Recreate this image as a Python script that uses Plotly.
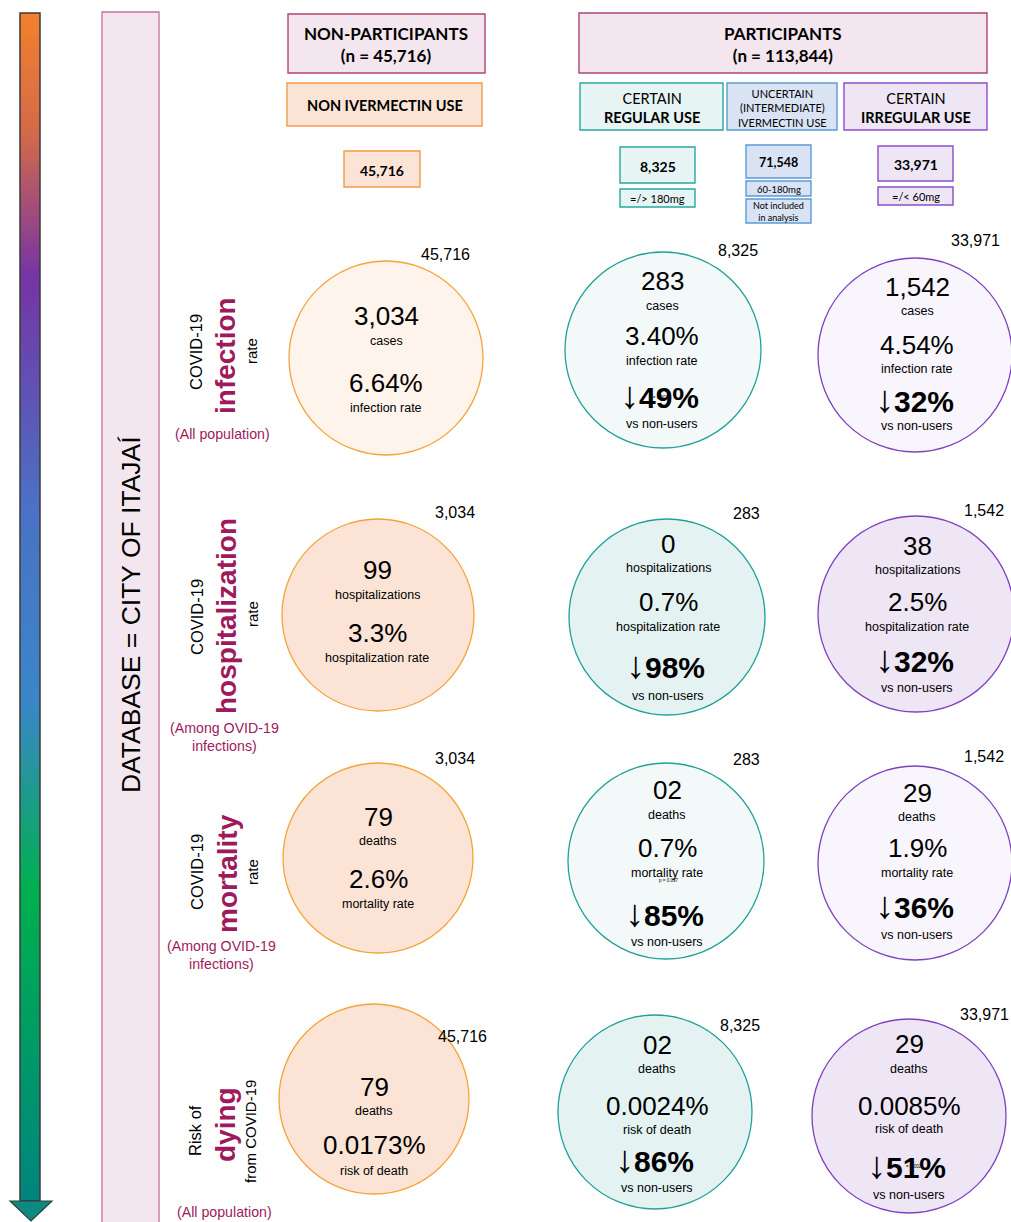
import plotly.graph_objects as go
import numpy as np

# ---------------- DATA ----------------
header_groups = ["NON-PARTICIPANTS", "PARTICIPANTS"]
header_n = ["45,716", "113,844"]
subgroup_labels = ["NON IVERMECTIN USE", "CERTAIN|REGULAR USE",
                   "UNCERTAIN|(INTERMEDIATE)|IVERMECTIN USE", "CERTAIN|IRREGULAR USE"]
subgroup_n = ["45,716", "8,325", "71,548", "33,971"]
dose_labels = ["", "=/> 180mg", "60-180mg", "=/< 60mg"]
excluded_note = "Not included<br>in analysis"

outcome_words = ["infection", "hospitalization", "mortality", "dying"]
count_words = ["cases", "hospitalizations", "deaths", "deaths"]
rate_words = ["infection rate", "hospitalization rate", "mortality rate", "risk of death"]

denom_non = ["45,716", "3,034", "3,034", "45,716"]
denom_reg = ["8,325", "283", "283", "8,325"]
denom_irr = ["33,971", "1,542", "1,542", "33,971"]

count_non = ["3,034", "99", "79", "79"]
count_reg = ["283", "0", "02", "02"]
count_irr = ["1,542", "38", "29", "29"]

rate_non = ["6.64%", "3.3%", "2.6%", "0.0173%"]
rate_reg = ["3.40%", "0.7%", "0.7%", "0.0024%"]
rate_irr = ["4.54%", "2.5%", "1.9%", "0.0085%"]

reduction_reg = [49, 98, 85, 86]
reduction_irr = [32, 32, 36, 51]

p_values = ["p = 0.007", "p = 0.097", "= 0.002"]

# ---------------- LAYOUT (positions / styles) ----------------
W, H = 1011, 1222
FONT = "Liberation Sans, Arial, sans-serif"
HFONT = "Lato, Open Sans, sans-serif"
MAROON = "#9E1A5C"

ORANGE_E, TEAL_E, PURP_E = "#F5A33B", "#22A09A", "#8040C0"
fills_non = ["#FEF4EB", "#FBE4D5", "#FBE4D5", "#FBE4D5"]
fills_reg = ["#F3F9F9", "#E4F3F2", "#F3F9F9", "#E4F3F2"]
fills_irr = ["#F8F5FC", "#EEE5F5", "#F8F5FC", "#EEE5F5"]

# circle: cx, cy, r, label_x, label_y, text_x, [y positions of text lines]
geo_non = [
    (386, 358, 97, 445, 254, 386, [316, 341, 383, 408]),
    (378, 615, 96, 455, 512, 377, [570, 595, 633, 658]),
    (378, 858, 95, 455, 758, 378, [817, 841, 879, 904]),
    (374, 1099, 95, 462, 1036, 374, [1087, 1111, 1145, 1171]),
]
geo_reg = [
    (663, 350, 98, 738, 250, 662, [281, 306, 336, 361, 398, 424]),
    (667, 617, 98, 746, 513, 668, [544, 568, 602, 627, 668, 696]),
    (666, 861, 98, 746, 759, 667, [790, 815, 848, 873, 916, 942]),
    (655, 1112, 97, 740, 1025, 657, [1045, 1069, 1106, 1130, 1162, 1188]),
]
geo_irr = [
    (915, 355, 97, 975, 240, 917, [287, 311, 345, 369, 402, 426]),
    (916, 614, 98, 984, 510, 917, [546, 570, 602, 627, 662, 688]),
    (915, 863, 97, 984, 756, 917, [793, 817, 848, 873, 908, 935]),
    (909, 1116, 97, 984, 1014, 909, [1044, 1069, 1106, 1129, 1168, 1195]),
]
p_pos = [(658, 397), (668, 880), (914, 1166)]

fig = go.Figure()
shapes = []
ann = []


def text(x, y, s, size, color="black", family=FONT, angle=0, **kw):
    ann.append(dict(x=x, y=y, xref="x", yref="y", text=s, showarrow=False,
                    font=dict(size=size, color=color, family=family),
                    textangle=angle, xanchor="center", yanchor="middle", **kw))


def rect(x0, y0, x1, y1, fill, line, lw=1.3):
    shapes.append(dict(type="rect", xref="x", yref="y", x0=x0, y0=y0, x1=x1, y1=y1,
                       fillcolor=fill, line=dict(color=line, width=lw), layer="below"))


# ---- gradient arrow (heatmap) ----
y_edges = np.linspace(13, 1201, 241)
z = ((y_edges[:-1] + y_edges[1:]) / 2).reshape(-1, 1)
fig.add_trace(go.Heatmap(
    x=[20, 40], y=y_edges, z=z, showscale=False, hoverinfo="skip",
    colorscale=[[0.0, "#F3802C"], [0.10, "#D3694A"], [0.22, "#7534A4"],
                [0.42, "#4A72C6"], [0.58, "#3A86C8"], [0.74, "#00B04E"],
                [1.0, "#00857E"]],
))
shapes.append(dict(type="rect", xref="x", yref="y", x0=20, x1=40, y0=13, y1=1201,
                   line=dict(color="#3A3A3A", width=1.5), fillcolor="rgba(0,0,0,0)", layer="above"))
shapes.append(dict(type="path", xref="x", yref="y", path="M 10 1201 L 52 1201 L 31 1221 Z",
                   fillcolor="#0D8A80", line=dict(color="#2F3F3E", width=1.2), layer="above"))

# ---- database box ----
rect(102, 12, 159, 1223, "#F3E6EE", "#C8719F", 1.3)
text(131, 615, "DATABASE = CITY OF ITAJAÍ", 26.5, angle=-90)

# ---- header boxes ----
rect(288, 14, 485, 73, "#F3E6EE", "#B04475", 1.4)
text(386, 44, f"<b>{header_groups[0]}</b><br><b>(n = {header_n[0]})</b>", 17, family=HFONT)
rect(579, 13, 987, 73, "#F3E6EE", "#B04475", 1.4)
text(783, 44, f"<b>{header_groups[1]}</b><br><b>(n = {header_n[1]})</b>", 17, family=HFONT)

sub_boxes = [(287, 83, 482, 126, "#FBE4D5", "#F39A4C"),
             (580, 83, 723, 130, "#E6F4F3", "#2AA6A0"),
             (727, 83, 837, 130, "#DAE3F3", "#5B9BD5"),
             (844, 83, 987, 130, "#EEE6F5", "#8E4CC8")]
for i, (x0, y0, x1, y1, f, l) in enumerate(sub_boxes):
    rect(x0, y0, x1, y1, f, l, 1.4)
    parts = subgroup_labels[i].split("|")
    cx, cy = (x0 + x1) / 2, (y0 + y1) / 2
    if i == 0:
        text(cx, cy + 1, f"<b>{parts[0]}</b>", 14.5, family=HFONT)
    elif i == 2:
        text(cx, cy + 1, "<br>".join(parts), 11, family=HFONT)
    else:
        text(cx, cy + 1, f"{parts[0]}<br><b>{parts[1]}</b>", 14.5, family=HFONT)

# n boxes
n_boxes = [(344, 151, 420, 187, "#FBE4D5", "#F39A4C"),
           (620, 147, 695, 183, "#E6F4F3", "#2AA6A0"),
           (746, 145, 811, 178, "#DAE3F3", "#5B9BD5"),
           (878, 146, 953, 181, "#EEE6F5", "#8E4CC8")]
dose_boxes = [None,
              (620, 189, 695, 207),
              (746, 181, 811, 196),
              (878, 187, 953, 205)]
for i, (x0, y0, x1, y1, f, l) in enumerate(n_boxes):
    rect(x0, y0, x1, y1, f, l, 1.4)
    text((x0 + x1) / 2, (y0 + y1) / 2 + 1, f"<b>{subgroup_n[i]}</b>", 14 if i != 2 else 12.5, family=HFONT)
    if dose_boxes[i]:
        d = dose_boxes[i]
        rect(d[0], d[1], d[2], d[3], f, l, 1.4)
        text((d[0] + d[2]) / 2, (d[1] + d[3]) / 2 + 0.5, dose_labels[i], 11 if i != 2 else 9.5, family=HFONT)
rect(746, 199, 811, 223, "#DAE3F3", "#5B9BD5", 1.4)
text(778.5, 211.5, excluded_note, 9, family=HFONT)

# ---- row labels ----
row_lab = [
    dict(a=("COVID-19", 196, 352), b=(outcome_words[0], 225, 356), c=("rate", 251, 351),
         note=("(All population)", 222, 434)),
    dict(a=("COVID-19", 197, 617), b=(outcome_words[1], 226, 616), c=("rate", 252, 614),
         note=("(Among OVID-19<br>infections)", 224, 737)),
    dict(a=("COVID-19", 197, 872), b=(outcome_words[2], 227, 874), c=("rate", 252, 872),
         note=("(Among OVID-19<br>infections)", 221, 955)),
    dict(a=("Risk of", 195, 1131), b=(outcome_words[3], 225, 1125), c=("from COVID-19", 250, 1132),
         note=("(All population)", 224, 1212)),
]
for rl in row_lab:
    text(rl["a"][1], rl["a"][2], rl["a"][0], 16.5, angle=-90)
    text(rl["b"][1], rl["b"][2], f"<b>{rl['b'][0]}</b>", 28, color=MAROON, angle=-90)
    text(rl["c"][1], rl["c"][2], rl["c"][0], 15, angle=-90)
    text(rl["note"][1], rl["note"][2], rl["note"][0], 14.2, color=MAROON)

# ---- circles ----
BIG, SMALL, RED = 26, 12.5, 30


def circle(g, fill, edge):
    cx, cy, r = g[0], g[1], g[2]
    shapes.append(dict(type="circle", xref="x", yref="y", x0=cx - r, x1=cx + r,
                       y0=cy - r, y1=cy + r, fillcolor=fill,
                       line=dict(color=edge, width=1.3), layer="below"))


for k in range(4):
    g = geo_non[k]
    circle(g, fills_non[k], ORANGE_E)
    text(g[3], g[4], denom_non[k], 16)
    ys = g[6]
    text(g[5], ys[0], count_non[k], BIG)
    text(g[5], ys[1], count_words[k], SMALL)
    text(g[5], ys[2], rate_non[k], BIG)
    text(g[5], ys[3], rate_words[k], SMALL)

    for geo, fills, edge, denom, cnt, rate, red in [
        (geo_reg, fills_reg, TEAL_E, denom_reg, count_reg, rate_reg, reduction_reg),
        (geo_irr, fills_irr, PURP_E, denom_irr, count_irr, rate_irr, reduction_irr)]:
        g = geo[k]
        circle(g, fills[k], edge)
        text(g[3], g[4], denom[k], 16)
        ys = g[6]
        text(g[5], ys[0], cnt[k], BIG)
        text(g[5], ys[1], count_words[k], SMALL)
        text(g[5], ys[2], rate[k], BIG)
        text(g[5], ys[3], rate_words[k], SMALL)
        text(g[5] - 3, ys[4] - 3,
             f"<span style='font-size:38px'>↓</span><b>{red[k]}%</b>", RED)
        text(g[5], ys[5], "vs non-users", SMALL)

# tiny p-values (overlap in the original too)
for (px, py), pv in zip(p_pos, p_values):
    text(px, py, pv, 4.5)

fig.update_layout(
    width=W, height=H, margin=dict(l=0, r=0, t=0, b=0),
    paper_bgcolor="white", plot_bgcolor="white",
    xaxis=dict(range=[0, W], visible=False, fixedrange=True),
    yaxis=dict(range=[H, 0], visible=False, fixedrange=True),
    shapes=shapes, annotations=ann, showlegend=False,
)
fig.write_html(
    "out.html",
    config={"displayModeBar": False},
    post_script="document.body.style.margin='0';document.body.style.padding='0';"
                "document.body.style.overflow='hidden';"
                "document.documentElement.style.overflow='hidden';",
)
